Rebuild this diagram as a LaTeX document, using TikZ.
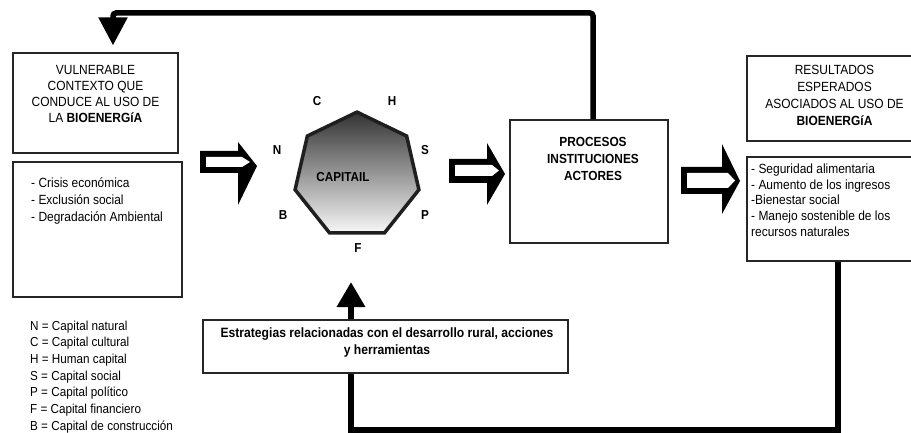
\documentclass[tikz,border=0pt]{standalone}
\usepackage{fontspec}
\setmainfont{Liberation Sans}[FakeStretch=0.9]
\usetikzlibrary{arrows.meta,shapes.geometric}

\begin{document}
\begin{tikzpicture}[x=1pt,y=-1pt,
  box/.style={draw=black!85, line width=1.3pt, inner sep=0pt, rectangle},
  blocktext/.style={inner sep=0pt, align=center, font=\fontsize{13.3}{16.5}\selectfont},
  listtext/.style={inner sep=0pt, align=left, font=\fontsize{13.3}{16.5}\selectfont},
  arrowbody/.style={fill=black},
  arrowhollow/.style={fill=white},
  flow/.style={draw=black, line width=5.5pt, line join=miter},
  caplabel/.style={inner sep=0pt, font=\bfseries\fontsize{13}{13}\selectfont}
]
\clip (0,0) rectangle (911,433);
\fill[white] (0,0) rectangle (911,433);

% context boxes (left)
\node[box, minimum width=165pt, minimum height=100pt] (ctx) at (95.5,103) {};
\node[box, minimum width=169pt, minimum height=135pt] (ctxlist) at (97.5,229.5) {};
\node[blocktext, anchor=north, font=\fontsize{13.3}{16}\selectfont] (ctxtext) at (95.5,65)
  {VULNERABLE\\CONTEXTO QUE\\CONDUCE AL USO DE\\LA \textbf{BIOENERGíA}};
\node[listtext, anchor=north west, font=\fontsize{13.3}{16.7}\selectfont] (ctxitems) at (31,178)
  {- Crisis económica\\- Exclusión social\\- Degradación Ambiental};

% legend of the capitals
\node[listtext, anchor=north west, font=\fontsize{13}{16.7}\selectfont] (legend) at (30,320.5)
  {N = Capital natural\\C = Capital cultural\\H = Human capital\\S = Capital social\\P = Capital político\\F = Capital financiero\\B = Capital de construcción};

% capital heptagon
\node[regular polygon, regular polygon sides=7, minimum size=127pt, inner sep=0pt,
      top color=black!80, bottom color=black!3, draw=black!88, line width=3.5pt] (cap) at (357,175.6) {};
\node[caplabel] (captext) at (343,177) {CAPITAIL};
\node[caplabel] (lc) at (317,101) {C};
\node[caplabel] (lh) at (392,101) {H};
\node[caplabel] (ln) at (277,150) {N};
\node[caplabel] (ls) at (425,150) {S};
\node[caplabel] (lb) at (283,215) {B};
\node[caplabel] (lp) at (425,215) {P};
\node[caplabel] (lf) at (358,248) {F};

% processes box
\node[box, minimum width=158pt, minimum height=123pt] (proc) at (589,181.5) {};
\node[blocktext, anchor=north, font=\bfseries\fontsize{13.2}{17}\selectfont] (proctext) at (593,137)
  {PROCESOS\\INSTITUCIONES\\ACTORES};

% expected results (right)
\node[box, minimum width=168pt, minimum height=85pt] (res) at (831,98.5) {};
\node[box, minimum width=168pt, minimum height=104pt] (reslist) at (831,209) {};
\node[blocktext, anchor=north, font=\fontsize{13.3}{17}\selectfont] (restext) at (834.5,65.5)
  {RESULTADOS\\ESPERADOS\\ASOCIADOS AL USO DE\\\textbf{BIOENERGíA}};
\node[listtext, anchor=north west, font=\fontsize{13.3}{15.8}\selectfont] (resitems) at (751,163.5)
  {- Seguridad alimentaria\\- Aumento de los ingresos\\-Bienestar social\\- Manejo sostenible de los\\recursos naturales};

% strategies box
\node[box, minimum width=365pt, minimum height=53pt] (strat) at (385.5,346.5) {};
\node[blocktext, anchor=north, font=\bfseries\fontsize{13.5}{17}\selectfont] (strattext) at (387,328)
  {Estrategias relacionadas con el desarrollo rural, acciones\\y herramientas};

% block arrows: black outline with a white hollow
\fill[arrowbody] (200,151) -- (238,151) -- (238,142) -- (257,166) -- (238,205) -- (238,173) -- (200,173) -- cycle;
\fill[arrowhollow] (206,157) -- (242,157) -- (250,162) -- (242,167) -- (206,167) -- cycle;
\fill[arrowbody] (449,159) -- (487,159) -- (487,143) -- (505,174) -- (487,205) -- (487,183) -- (449,183) -- cycle;
\fill[arrowhollow] (455,165) -- (492,165) -- (499,170.5) -- (492,176) -- (455,176) -- cycle;
\fill[arrowbody] (681,167) -- (722,167) -- (722,144) -- (740,181) -- (722,214) -- (722,194) -- (681,194) -- cycle;
\fill[arrowhollow] (687,173) -- (728,173) -- (735,180.5) -- (728,188) -- (687,188) -- cycle;

% feedback loop over the top
\coordinate (looptop) at (593,13);
\draw[flow, rounded corners=3pt, -{Triangle[width=28pt,length=28pt]}, shorten >=7pt]
  ([xshift=4pt]proc.north) -- (looptop) -| ([xshift=17.5pt]ctx.north);

% loop along the bottom
\coordinate (loopbottom) at (351,430);
\draw[flow, line width=6.5pt]
  ([xshift=7pt]reslist.south) |- (loopbottom) -- ([xshift=-34.5pt]strat.south);

% strategies feeding the capitals
\coordinate (capin) at (351,282);
\draw[flow, line width=6.5pt, -{Triangle[width=27pt,length=25pt]}]
  ([xshift=-34.5pt]strat.north) -- (capin);
\end{tikzpicture}
\end{document}
